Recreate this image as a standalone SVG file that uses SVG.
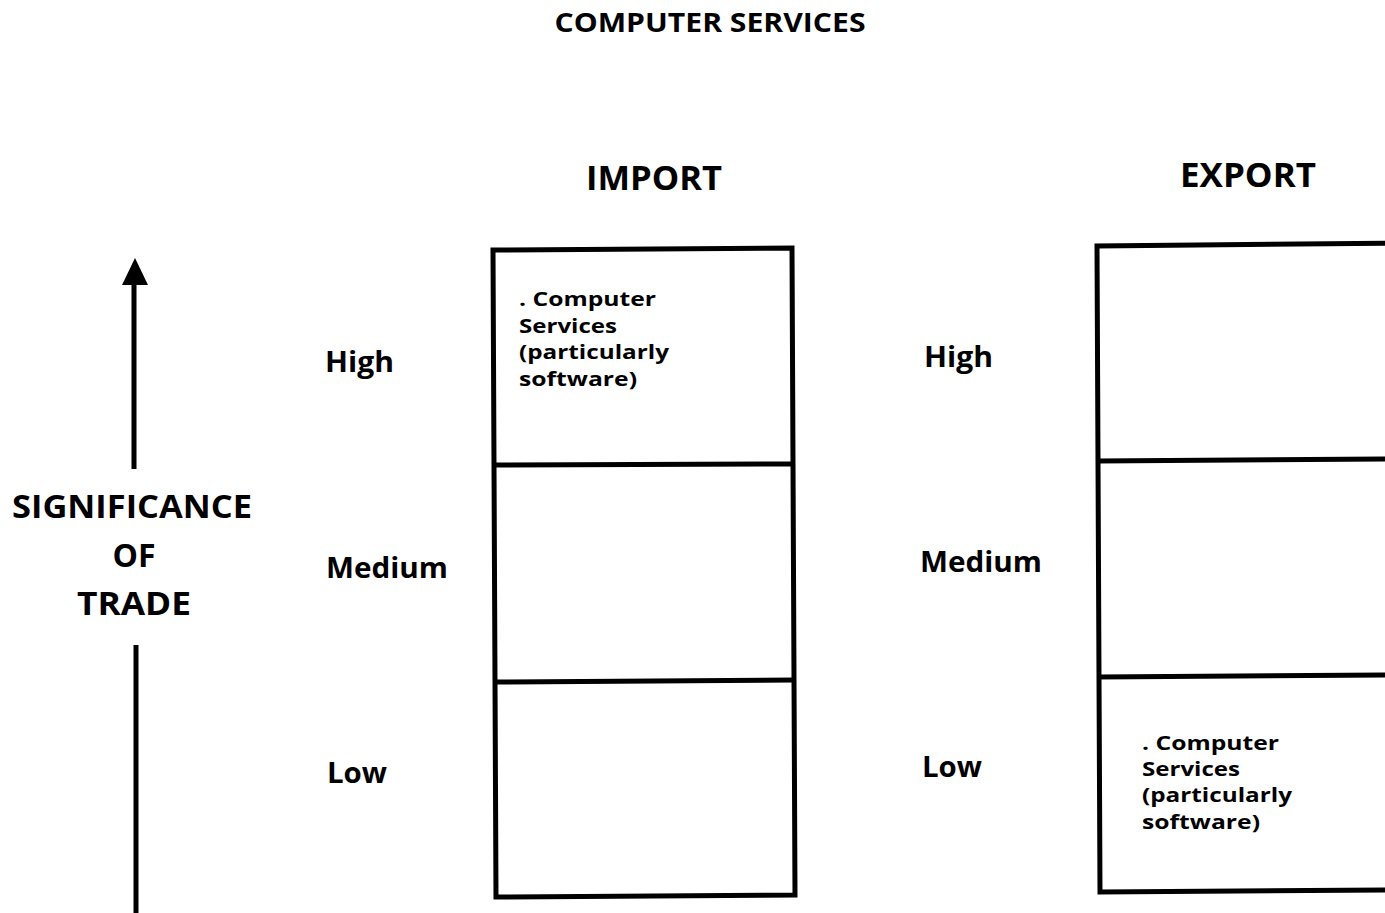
<svg xmlns="http://www.w3.org/2000/svg" width="1385" height="913" viewBox="0 0 1385 913">
<style>
text{font-family:"Open Sans","Noto Sans","Liberation Sans",sans-serif;font-weight:700;fill:#000}
.title{font-size:26px}
.head{font-size:34px}
.lvl{font-size:28px}
.axis{font-size:32px}
.cell{font-size:19px}
.box{fill:none;stroke:#000;stroke-width:5}
.ln{stroke:#000;stroke-width:5;fill:none}
</style>
<rect width="1385" height="913" fill="#fff"/>
<g id="title"><text class="title" x="710" y="32" text-anchor="middle" textLength="311" lengthAdjust="spacingAndGlyphs">COMPUTER SERVICES</text></g>
<g id="axis">
<text class="axis" x="132" y="518" text-anchor="middle" textLength="240" lengthAdjust="spacingAndGlyphs">SIGNIFICANCE</text>
<text class="axis" x="134" y="567" text-anchor="middle">OF</text>
<text class="axis" x="134" y="615" text-anchor="middle" textLength="114" lengthAdjust="spacingAndGlyphs">TRADE</text>
</g>
<g id="connectors">
<line class="ln" x1="134" y1="282" x2="134" y2="469"/>
<polygon points="135,258 122,285 148,285" fill="#000"/>
<line class="ln" x1="136" y1="645" x2="136" y2="913"/>
</g>
<g id="import">
<text class="head" x="586" y="190" textLength="136" lengthAdjust="spacingAndGlyphs">IMPORT</text>
<text class="lvl" x="325" y="372" textLength="69" lengthAdjust="spacingAndGlyphs">High</text>
<text class="lvl" x="326" y="578" textLength="122" lengthAdjust="spacingAndGlyphs">Medium</text>
<text class="lvl" x="327" y="783" textLength="60" lengthAdjust="spacingAndGlyphs">Low</text>
<polygon class="box" points="493,250 792,248 795,895 496,897"/>
<line class="ln" x1="494" y1="465" x2="793" y2="464"/>
<line class="ln" x1="495" y1="682" x2="794" y2="680"/>
<text class="cell" x="519" y="306" textLength="137" lengthAdjust="spacingAndGlyphs">. Computer</text>
<text class="cell" x="519" y="333" textLength="98" lengthAdjust="spacingAndGlyphs">Services</text>
<text class="cell" x="519" y="359" textLength="150" lengthAdjust="spacingAndGlyphs">(particularly</text>
<text class="cell" x="519" y="386" textLength="118" lengthAdjust="spacingAndGlyphs">software)</text>
</g>
<g id="export">
<text class="head" x="1180" y="187" textLength="136" lengthAdjust="spacingAndGlyphs">EXPORT</text>
<text class="lvl" x="924" y="367" textLength="69" lengthAdjust="spacingAndGlyphs">High</text>
<text class="lvl" x="920" y="572" textLength="122" lengthAdjust="spacingAndGlyphs">Medium</text>
<text class="lvl" x="922" y="777" textLength="60" lengthAdjust="spacingAndGlyphs">Low</text>
<polyline class="ln" points="1400,243 1097,246 1100,892 1400,890"/>
<line class="ln" x1="1098" y1="461" x2="1400" y2="459"/>
<line class="ln" x1="1099" y1="677" x2="1400" y2="675"/>
<text class="cell" x="1142" y="750" textLength="137" lengthAdjust="spacingAndGlyphs">. Computer</text>
<text class="cell" x="1142" y="776" textLength="98" lengthAdjust="spacingAndGlyphs">Services</text>
<text class="cell" x="1142" y="802" textLength="150" lengthAdjust="spacingAndGlyphs">(particularly</text>
<text class="cell" x="1142" y="829" textLength="118" lengthAdjust="spacingAndGlyphs">software)</text>
</g>
</svg>
